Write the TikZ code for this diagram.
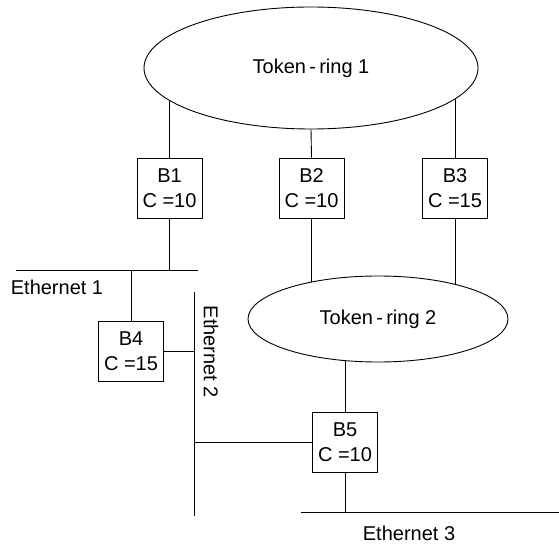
\documentclass[tikz,border=0pt]{standalone}
\usepackage{fontspec}
\setmainfont{Liberation Sans}
\usetikzlibrary{shapes.geometric}

\begin{document}
\begin{tikzpicture}[x=1pt,y=-1pt,line width=0.9pt,font=\fontsize{20}{25}\selectfont,box/.style={rectangle,draw,align=center,minimum width=65pt,minimum height=60pt,inner sep=1pt},ring/.style={ellipse,draw,inner sep=0pt}]
\useasboundingbox (0,0) rectangle (559,545);
% token rings
\node[ring,minimum width=334pt,minimum height=122pt](tr1) at (311,68){Token\,-\,ring 1};
\node[ring,minimum width=260pt,minimum height=86pt](tr2) at (378,319){Token\,-\,ring 2};
% bridges
\node[box](b1) at (169.5,188){B1\\C =10};
\node[box](b2) at (311.5,188){B2\\C =10};
\node[box](b3) at (455,188){B3\\C =15};
\node[box](b4) at (131,351.5){B4\\C =15};
\node[box](b5) at (345,442.5){B5\\C =10};
% ethernet segments
\coordinate (e1l) at (16,270); \coordinate (e1r) at (198,270);
\coordinate (e2t) at (194,292); \coordinate (e2b) at (194,516);
\coordinate (e3l) at (301,512); \coordinate (e3r) at (559,512);
\draw (e1l)--(e1r);
\draw (e2t)--(e2b);
\draw (e3l)--(e3r);
\node(eth1) at (57,287){Ethernet 1};
\node[rotate=-90](eth2) at (211,352){Ethernet 2};
\node(eth3) at (409,533){Ethernet 3};
% links
\draw (b1.north)--(b1.north |- tr1.193);
\draw (b2.north)--(tr1.south);
\draw (b3.north)--(b3.north |- tr1.348);
\draw (b1.south)--(b1.south |- e1r);
\draw (b2.south)--(b2.south |- tr2.151);
\draw (b3.south)--(b3.south |- tr2.24);
\draw (b4.north)--(b4.north |- e1l);
\draw (b4.east)--(b4.east -| e2t);
\draw (b5.west)--(b5.west -| e2t);
\draw (b5.north)--(b5.north |- tr2.232);
\draw (b5.south)--(b5.south |- e3l);
\end{tikzpicture}
\end{document}
